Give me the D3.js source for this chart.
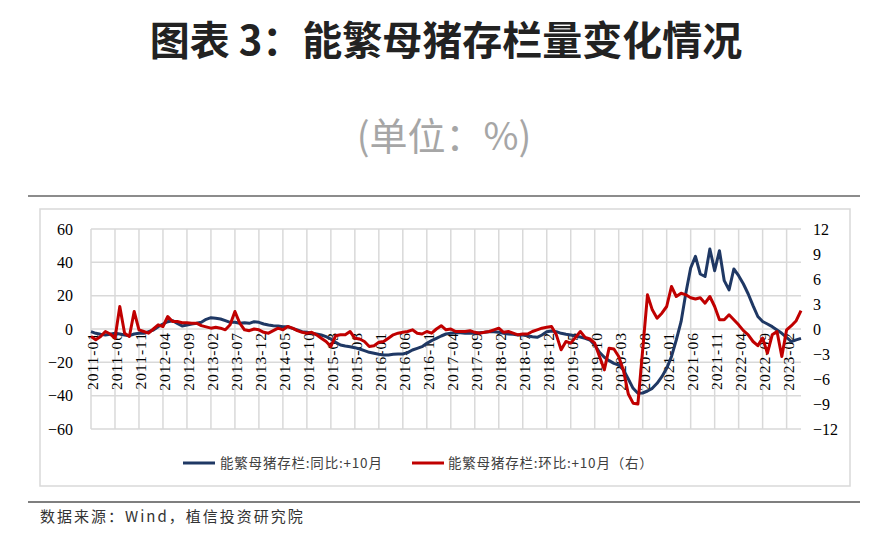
<!DOCTYPE html>
<html><head><meta charset="utf-8">
<script src="https://cdn.jsdelivr.net/npm/d3@7"></script>
<style>body{margin:0;background:#fff}svg{display:block}</style>
</head><body><svg id="c" width="879" height="542"></svg>
<script>
// ---- data ----
const firstMonth = "2011-01";
const monthCount = 149;
const tickLabels = ["2011-01","2011-06","2011-11","2012-04","2012-09","2013-02","2013-07","2013-12","2014-05","2014-10",
  "2015-03","2015-08","2016-01","2016-06","2016-11","2017-04","2017-09","2018-02","2018-07","2018-12",
  "2019-05","2019-10","2020-03","2020-08","2021-01","2021-06","2021-11","2022-04","2022-09","2023-02"];
const leftTicks = [-60,-40,-20,0,20,40,60];
const rightTicks = [-12,-9,-6,-3,0,3,6,9,12];
// 能繁母猪存栏:同比:+10月 (left axis)
const yoy = [
 -1.6,-2.6,-3.2,-3.6,-3.2,-2.6,-3,-3.6,-4,-3,
 -2.6,-2.6,-1.6,-0.6,1.4,3,4.4,5,3.4,1.8,
 2.4,3,3.4,4,5.8,6.8,6.4,6,5,4,
 4,3.4,3.8,3.4,4.4,4,3,2.4,2,1.8,
 1.4,1.4,0.4,-0.6,-1.6,-2,-2.6,-3,-3.6,-4.6,
 -6,-8,-9.6,-10.2,-10.6,-11.2,-12,-13,-14,-14.6,
 -15.2,-15.6,-15.6,-15.2,-15,-15,-14.2,-12.6,-11.6,-10.6,
 -8.6,-7,-5.6,-4.2,-3,-2.6,-2.2,-2.2,-2.6,-2.6,
 -2.6,-2.2,-2,-1.6,-1.6,-2,-2.6,-3,-3.2,-3.6,
 -3.6,-4,-4.6,-5,-3.6,-1.6,-1.2,-1.6,-2.6,-3.2,
 -3.6,-4.2,-4.8,-5.6,-6.6,-9.6,-14,-17,-19,-20.6,
 -21.6,-24.6,-30,-35.6,-38.6,-38.4,-37.2,-35.6,-32.6,-28.6,
 -23.6,-16.6,-6.6,4.4,21.6,36.6,43.6,33,31.5,48,
 35,47,29,23.5,36,32,27,21,14,7.5,
 4.5,3,1.4,-0.6,-2.6,-5,-7.6,-6.5,-5.6];
// 能繁母猪存栏:环比:+10月（右）(right axis)
const mom = [
 -0.9,-1.3,-0.9,-0.3,-0.6,-1.1,2.7,-0.5,-0.9,2.1,
 -0.1,-0.3,-0.5,0,0.5,0.3,1.5,0.9,0.9,0.75,
 0.75,0.7,0.7,0.4,0.25,0.1,0.2,0.1,-0.1,0.5,
 2.1,0.7,-0.1,-0.2,0,-0.1,-0.4,-0.5,-0.2,0.1,
 -0.1,0.3,0.1,-0.2,-0.4,-0.5,-0.4,-0.7,-1.1,-1.5,
 -2.1,-0.8,-0.7,-0.7,-0.3,-1.1,-1.2,-1.5,-2.1,-2,
 -1.6,-1.5,-1.1,-0.7,-0.5,-0.4,-0.3,-0.1,-0.5,-0.6,
 -0.3,-0.5,0,0.4,-0.1,0,-0.3,-0.3,-0.3,-0.2,
 -0.4,-0.5,-0.4,-0.3,-0.1,0.1,-0.4,-0.3,-0.5,-0.7,
 -0.6,-0.6,-0.3,-0.1,0.1,0.2,0.3,-0.7,-2.5,-1.5,
 -1.7,-1,-0.3,-1,-1.2,-1.7,-3.3,-4.9,-2.3,-2.4,
 -3.3,-5,-7.8,-8.9,-9,-2.5,4.1,2.3,1.3,1.9,
 2.7,5.1,3.9,4.3,4.1,3.75,3.6,3.75,3.1,3.9,
 2.7,1.1,1.1,1.7,1.1,0.5,-0.2,-0.7,-1.5,-2,
 -1.1,-2.9,-0.7,-0.3,-3.3,-0.1,0.4,1,2.2];
const seriesNames = ["能繁母猪存栏:同比:+10月","能繁母猪存栏:环比:+10月（右）"];

// month categories
const [fy, fm] = firstMonth.split("-").map(Number);
const months = d3.range(monthCount).map(k => {
  const t = fy*12 + (fm-1) + k;
  return Math.floor(t/12) + "-" + String(t%12+1).padStart(2,"0");
});

const svg = d3.select("#c");

// header
svg.append("text").attr("x", 446).attr("y", 55).attr("text-anchor","middle")
  .attr("font-family","'Noto Sans CJK SC'").attr("font-weight",700).attr("font-size",40)
  .attr("fill","#222").text("图表 3：能繁母猪存栏量变化情况");
svg.append("text").attr("x", 444).attr("y", 150).attr("text-anchor","middle")
  .attr("font-family","'Noto Sans CJK SC'").attr("font-size",38)
  .attr("fill","#a6a6a6").text("(单位：%)");
svg.append("line").attr("x1",28).attr("x2",860).attr("y1",196).attr("y2",196)
  .attr("stroke","#8c8c8c").attr("stroke-width",2);
// chart frame
svg.append("rect").attr("x",40).attr("y",209).attr("width",810).attr("height",277)
  .attr("fill","none").attr("stroke","#d9d9d9").attr("stroke-width",1.5);
// footer
svg.append("line").attr("x1",28).attr("x2",860).attr("y1",502).attr("y2",502)
  .attr("stroke","#555").attr("stroke-width",1.5);
svg.append("text").attr("x",40).attr("y",522)
  .attr("font-family","'Noto Sans CJK SC'").attr("font-size",15).attr("letter-spacing",2)
  .attr("fill","#333").text("数据来源：Wind，植信投资研究院");

// scales
const x = d3.scalePoint().domain(months).range([91, 801]);
const yL = d3.scaleLinear().domain([-60,60]).range([429, 229]);
const yR = d3.scaleLinear().domain([-12,12]).range([429, 229]);

// grid
const g = svg.append("g");
g.selectAll(".vgrid").data(tickLabels).join("line").attr("class","vgrid")
  .attr("x1", d => x(d)).attr("x2", d => x(d)).attr("y1", yL(60)).attr("y2", yL(-60))
  .attr("stroke","#d9d9d9").attr("stroke-width",1.5);
g.selectAll(".hgrid").data(leftTicks).join("line").attr("class","hgrid")
  .attr("x1", x.range()[0]).attr("x2", x.range()[1]).attr("y1", d => yL(d)).attr("y2", d => yL(d))
  .attr("stroke","#d9d9d9").attr("stroke-width",1.5);

// left axis
svg.append("g").attr("transform","translate(73,0)")
  .call(d3.axisLeft(yL).tickValues(leftTicks).tickSize(0).tickPadding(0))
  .call(a => a.select(".domain").remove())
  .call(a => a.selectAll("text").attr("font-family","'Liberation Serif'").attr("font-size",16).attr("fill","#000"));
// right axis
svg.append("g").attr("transform","translate(813,0)")
  .call(d3.axisRight(yR).tickValues(rightTicks).tickSize(0).tickPadding(0))
  .call(a => a.select(".domain").remove())
  .call(a => a.selectAll("text").attr("font-family","'Liberation Serif'").attr("font-size",16).attr("fill","#000"));

// x labels (rotated)
svg.append("g").selectAll("text").data(tickLabels).join("text")
  .attr("transform", d => `translate(${x(d)+7},332) rotate(-90)`)
  .attr("text-anchor","end")
  .attr("font-family","'Liberation Serif'").attr("font-size",15.5).attr("letter-spacing",1)
  .attr("fill","#000").text(d => d);

// lines
const lineL = d3.line().x((d,i) => x(months[i])).y(d => yL(d));
const lineR = d3.line().x((d,i) => x(months[i])).y(d => yR(d));
svg.append("path").datum(yoy).attr("d", lineL).attr("fill","none")
  .attr("stroke","#1f3864").attr("stroke-width",3).attr("stroke-linejoin","round");
svg.append("path").datum(mom).attr("d", lineR).attr("fill","none")
  .attr("stroke","#c00000").attr("stroke-width",3).attr("stroke-linejoin","round");

// legend
const leg = [{x1:183,x2:215,tx:220,c:"#1f3864",t:seriesNames[0]},{x1:412,x2:444,tx:448,c:"#c00000",t:seriesNames[1]}];
leg.forEach(l => {
  svg.append("line").attr("x1",l.x1).attr("x2",l.x2).attr("y1",463).attr("y2",463)
    .attr("stroke",l.c).attr("stroke-width",3);
  svg.append("text").attr("x",l.tx).attr("y",468)
    .attr("font-family","'Noto Sans CJK SC'").attr("font-size",13.5).attr("letter-spacing",0.8)
    .attr("fill","#404040").text(l.t);
});
</script></body></html>
